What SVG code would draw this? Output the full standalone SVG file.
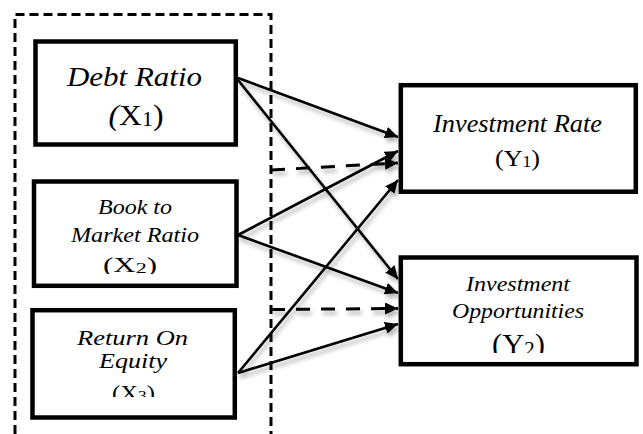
<svg xmlns="http://www.w3.org/2000/svg" width="643" height="434" viewBox="0 0 643 434">
<style>
.box{fill:#fff;stroke:#000;stroke-width:4.5}
.t{font-family:"Liberation Serif","Times New Roman",serif;fill:#000;text-anchor:middle}
.i{font-style:italic}
.c{stroke:#000;stroke-width:2.6;fill:none}
.d{stroke:#000;stroke-width:3;fill:none;stroke-dasharray:14 11}
.frame{stroke:#000;stroke-width:3;fill:none;stroke-dasharray:9 5}
</style>
<defs>
<marker id="ah" markerUnits="userSpaceOnUse" markerWidth="14" markerHeight="12" refX="13" refY="6" orient="auto">
<path d="M0,0 L13,6 L0,12 z" fill="#000"/>
</marker>
<filter id="sh" x="-10%" y="-10%" width="130%" height="130%">
<feDropShadow dx="2" dy="4" stdDeviation="2" flood-color="#000" flood-opacity="0.3"/>
</filter>
<clipPath id="clipX2"><rect x="36" y="184" width="198" height="90"/></clipPath>
<clipPath id="clipX3"><rect x="35" y="313" width="198" height="84"/></clipPath>
<clipPath id="clipY2"><rect x="403" y="260" width="231" height="93"/></clipPath>
</defs>
<rect width="643" height="434" fill="#fff"/>
<g id="frame">
<path class="frame" d="M15,434 L15,14.5 L271,14.5 L271,434"/>
</g>
<g id="X1">
<rect class="box" x="35.5" y="41.5" width="200.3" height="103"/>
<text class="t i" x="134.5" y="86" font-size="28" textLength="135" lengthAdjust="spacingAndGlyphs">Debt Ratio</text>
<text class="t" x="136" y="125" font-size="29" textLength="55" lengthAdjust="spacingAndGlyphs"><tspan font-style="italic">(</tspan>X<tspan font-size="20" dy="1">1</tspan><tspan dy="-1">)</tspan></text>
</g>
<g id="X2">
<rect class="box" x="34" y="181.5" width="202.5" height="104.3"/>
<text class="t i" x="135" y="214" font-size="21" textLength="74" lengthAdjust="spacingAndGlyphs">Book to</text>
<text class="t i" x="135" y="242" font-size="21" textLength="128" lengthAdjust="spacingAndGlyphs">Market Ratio</text>
<g clip-path="url(#clipX2)">
<text class="t" x="130" y="272" font-size="21" textLength="54" lengthAdjust="spacingAndGlyphs">(X<tspan font-size="15" dy="1">2</tspan><tspan dy="-1">)</tspan></text>
</g>
</g>
<g id="X3">
<rect class="box" x="32.5" y="310.2" width="202.3" height="107.3"/>
<text class="t i" x="132.5" y="345" font-size="21" textLength="111" lengthAdjust="spacingAndGlyphs">Return On</text>
<text class="t i" x="133" y="368" font-size="21" textLength="68" lengthAdjust="spacingAndGlyphs">Equity</text>
<g clip-path="url(#clipX3)">
<text class="t" x="133.5" y="400" font-size="20" textLength="43" lengthAdjust="spacingAndGlyphs">(X<tspan font-size="14" dy="1">3</tspan><tspan dy="-1">)</tspan></text>
</g>
</g>
<g id="Y1">
<rect class="box" x="400.8" y="85.2" width="235" height="106.5"/>
<text class="t i" x="517.5" y="132" font-size="25" textLength="169" lengthAdjust="spacingAndGlyphs">Investment Rate</text>
<text class="t" x="517.5" y="166" font-size="24" textLength="45" lengthAdjust="spacingAndGlyphs">(Y<tspan font-size="16" dy="1">1</tspan><tspan dy="-1">)</tspan></text>
</g>
<g id="Y2">
<rect class="box" x="400.8" y="257.5" width="235.7" height="106.7"/>
<text class="t i" x="518" y="291" font-size="22" textLength="104" lengthAdjust="spacingAndGlyphs">Investment</text>
<text class="t i" x="518" y="318" font-size="22" textLength="132" lengthAdjust="spacingAndGlyphs">Opportunities</text>
<g clip-path="url(#clipY2)">
<text class="t" x="518.5" y="354" font-size="29" textLength="53" lengthAdjust="spacingAndGlyphs">(Y<tspan font-size="20" dy="2">2</tspan><tspan dy="-2">)</tspan></text>
</g>
</g>
<g id="connectors" filter="url(#sh)">
<line class="c" x1="238" y1="78" x2="398" y2="137" marker-end="url(#ah)"/>
<line class="c" x1="238" y1="80" x2="398" y2="279" marker-end="url(#ah)"/>
<line class="c" x1="238" y1="235" x2="398" y2="151" marker-end="url(#ah)"/>
<line class="c" x1="238" y1="235" x2="398" y2="293" marker-end="url(#ah)"/>
<line class="c" x1="238" y1="373" x2="398" y2="180" marker-end="url(#ah)"/>
<line class="c" x1="238" y1="373" x2="398" y2="324" marker-end="url(#ah)"/>
<line class="d" x1="271" y1="170" x2="398" y2="163" marker-end="url(#ah)"/>
<line class="d" x1="271" y1="309.5" x2="398" y2="308.5" marker-end="url(#ah)"/>
</g>
</svg>
